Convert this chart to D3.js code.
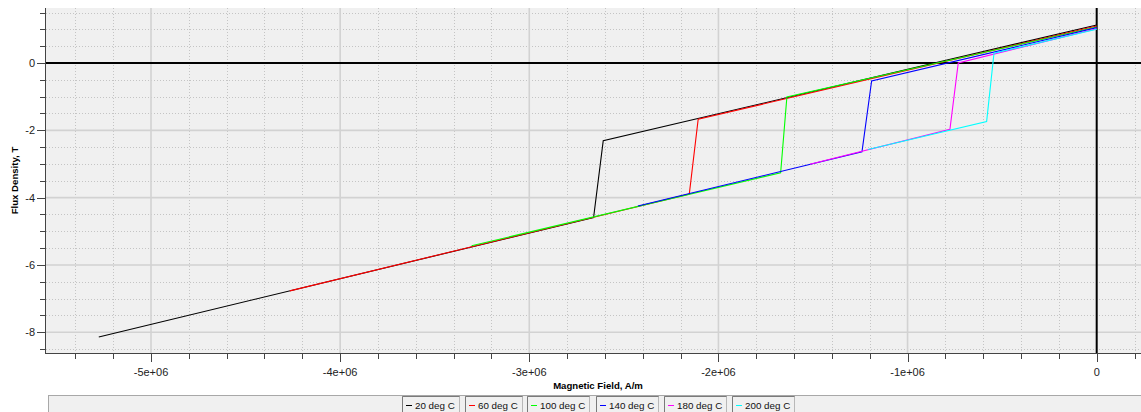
<!DOCTYPE html>
<html><head><meta charset="utf-8">
<script src="https://cdn.jsdelivr.net/npm/d3@7"></script>
<style>body{margin:0;background:#fff;}svg{display:block;}</style>
</head><body><svg id="c" width="1141" height="412"></svg>
<script>
// ---- data (H in A/m, B in T) ----
const seriesNames = ["20 deg C","60 deg C","100 deg C","140 deg C","180 deg C","200 deg C"];
const seriesColors = ["#000000","#ff0000","#00ff00","#0000ff","#ff00ff","#00ffff"];
const h20  = [0, -2.609e6, -2.660e6, -5.276e6];
const b20  = [1.13, -2.31, -4.59, -8.14];
const h60  = [0, -2.107e6, -2.154e6, -4.266e6];
const b60  = [1.10, -1.67, -3.89, -6.77];
const h100 = [0, -1.638e6, -1.671e6, -3.305e6];
const b100 = [1.07, -1.01, -3.26, -5.43];
const h140 = [0, -1.190e6, -1.241e6, -2.426e6];
const b140 = [1.05, -0.535, -2.635, -4.25];
const h180 = [0, -0.732e6, -0.776e6, -1.516e6];
const b180 = [1.02, 0.0, -1.97, -3.01];
const h200 = [0, -0.543e6, -0.582e6, -1.209e6];
const b200 = [1.00, 0.29, -1.74, -2.57];
const xTickValues = [-5e6,-4e6,-3e6,-2e6,-1e6,0];
const xTickLabels = ["-5e+06","-4e+06","-3e+06","-2e+06","-1e+06","0"];
const yTickValues = [0,-2,-4,-6,-8];
const yTickLabels = ["0","-2","-4","-6","-8"];
const xTitle = "Magnetic Field, A/m";
const yTitle = "Flux Density, T";

const H = [h20,h60,h100,h140,h180,h200];
const B = [b20,b60,b100,b140,b180,b200];
const series = seriesNames.map((n,i)=>({name:n,color:seriesColors[i],pts:H[i].map((h,j)=>[h,B[i][j]])}));

// ---- layout ----
const L=46, R=1141, T=8, Bt=353;
const x = d3.scaleLinear().domain([-5e6,0]).range([151,1096.7]);
const y = d3.scaleLinear().domain([-8,0]).range([332.3,63]);
const xMin = x.invert(L), xMax = x.invert(R), yMin = y.invert(Bt), yMax = y.invert(T);

const svg = d3.select("#c");
const font = "'Liberation Sans', Arial, sans-serif";

svg.append("rect").attr("x",L).attr("y",T).attr("width",R-L).attr("height",Bt-T).attr("fill","#f0f0f0");

const clip = svg.append("clipPath").attr("id","pc").append("rect").attr("x",L).attr("y",T).attr("width",R-L).attr("height",Bt-T);
const g = svg.append("g").attr("clip-path","url(#pc)");

// minor grid
const xMinor = d3.range(Math.ceil(xMin/2e5)*2e5, xMax, 2e5).filter(v=>Math.abs(v/1e6-Math.round(v/1e6))>1e-6);
const yMinor = d3.range(Math.ceil(yMin/0.5)*0.5, yMax, 0.5).filter(v=>Math.abs(v/2-Math.round(v/2))>1e-6);
g.selectAll(".vmin").data(xMinor).join("line").attr("x1",d=>Math.round(x(d))+0.5).attr("x2",d=>Math.round(x(d))+0.5)
  .attr("y1",T).attr("y2",Bt).attr("stroke","#c4c4c4").attr("stroke-dasharray","1,2");
g.selectAll(".hmin").data(yMinor).join("line").attr("y1",d=>Math.round(y(d))+0.5).attr("y2",d=>Math.round(y(d))+0.5)
  .attr("x1",L).attr("x2",R).attr("stroke","#c4c4c4").attr("stroke-dasharray","1,2");
// major grid
const xMajor = d3.range(-5e6, xMax, 1e6).filter(v=>v!==0);
const yMajor = d3.range(-8, yMax, 2).filter(v=>v!==0);
g.selectAll(".vmaj").data(xMajor).join("line").attr("x1",d=>x(d)).attr("x2",d=>x(d))
  .attr("y1",T).attr("y2",Bt).attr("stroke","#d2d2d2").attr("stroke-width",1.6);
g.selectAll(".hmaj").data(yMajor).join("line").attr("y1",d=>y(d)).attr("y2",d=>y(d))
  .attr("x1",L).attr("x2",R).attr("stroke","#d2d2d2").attr("stroke-width",1.6);
// zero lines
g.append("line").attr("x1",L).attr("x2",R).attr("y1",y(0)).attr("y2",y(0)).attr("stroke","#000").attr("stroke-width",2);
g.append("line").attr("x1",x(0)).attr("x2",x(0)).attr("y1",T).attr("y2",Bt).attr("stroke","#000").attr("stroke-width",2);

// curves
const line = d3.line().x(d=>x(d[0])).y(d=>y(d[1]));
g.selectAll(".curve").data(series).join("path").attr("d",d=>line(d.pts))
  .attr("fill","none").attr("stroke",d=>d.color).attr("stroke-width",1.1);

// axes
const axL = svg.append("g");
axL.append("line").attr("x1",L-0.5).attr("x2",L-0.5).attr("y1",T).attr("y2",Bt+1).attr("stroke","#444");
const yAllTicks = d3.range(Math.ceil(yMin/0.5)*0.5, yMax, 0.5);
axL.selectAll(".yt").data(yAllTicks).join("line")
  .attr("x1",d=>Math.abs(d/2-Math.round(d/2))<1e-6?L-9:L-6).attr("x2",L)
  .attr("y1",d=>Math.round(y(d))+0.5).attr("y2",d=>Math.round(y(d))+0.5).attr("stroke","#444");
axL.selectAll(".yl").data(yTickValues).join("text").attr("x",35).attr("y",d=>y(d)+4)
  .attr("text-anchor","end").attr("font-family",font).attr("font-size",11).attr("fill","#222")
  .text((d,i)=>yTickLabels[i]);

const axB = svg.append("g");
axB.append("line").attr("x1",L-1).attr("x2",R).attr("y1",Bt+0.5).attr("y2",Bt+0.5).attr("stroke","#444");
const xAllTicks = d3.range(Math.ceil(xMin/2e5)*2e5, xMax, 2e5);
axB.selectAll(".xt").data(xAllTicks).join("line")
  .attr("y1",Bt).attr("y2",d=>Math.abs(d/1e6-Math.round(d/1e6))<1e-6?Bt+9:Bt+6)
  .attr("x1",d=>Math.round(x(d))+0.5).attr("x2",d=>Math.round(x(d))+0.5).attr("stroke","#444");
axB.selectAll(".xl").data(xTickValues).join("text").attr("x",d=>x(d)).attr("y",376)
  .attr("text-anchor","middle").attr("font-family",font).attr("font-size",11).attr("fill","#222")
  .text((d,i)=>xTickLabels[i]);

svg.append("text").attr("x",598).attr("y",388.5).attr("text-anchor","middle")
  .attr("font-family",font).attr("font-size",9.6).attr("font-weight","bold").text(xTitle);
svg.append("text").attr("transform","translate(18,180.5) rotate(-90)").attr("text-anchor","middle")
  .attr("font-family",font).attr("font-size",9.6).attr("font-weight","bold").text(yTitle);

// legend
svg.append("rect").attr("x",48.5).attr("y",395.5).attr("width",1100).attr("height",30)
  .attr("fill","#f0f0f0").attr("stroke","#a8a8a8");
const lg = svg.append("g");
const items = lg.selectAll(".li").data(series).join("g");
items.append("text").attr("class","lt").attr("font-family",font).attr("font-size",9.8).attr("fill","#111")
  .attr("y",409).text(d=>d.name);
const widths = [];
items.each(function(){ widths.push(this.querySelector("text").getComputedTextLength()+17); });
const gap = 6;
const total = d3.sum(widths)+gap*(widths.length-1);
let cx = 598 - total/2;
const xs = widths.map(w=>{const v=cx; cx+=w+gap; return v;});
items.attr("transform",(d,i)=>`translate(${Math.round(xs[i])},0)`);
items.insert("rect","text").attr("x",0.5).attr("y",396.5).attr("width",(d,i)=>Math.round(widths[i])).attr("height",20)
  .attr("fill","#f0f0f0").attr("stroke","#b8b8b8");
items.append("path").attr("d",(d,i)=>`M0.5,416V396.5H${Math.round(widths[i])+0.5}`).attr("fill","none").attr("stroke","#7a7a7a");
items.append("line").attr("x1",4).attr("x2",10).attr("y1",405.5).attr("y2",405.5).attr("stroke",d=>d.color);
items.select("text").attr("x",13);
</script></body></html>
